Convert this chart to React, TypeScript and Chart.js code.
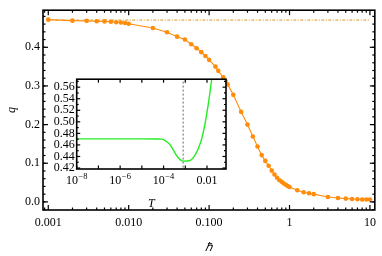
import React, { useEffect, useRef } from "react";
import { Chart, registerables } from "chart.js";
Chart.register(...registerables);

// ---- main plot data: q versus hbar ----
const hbarValues = [
  0.001, 0.002, 0.003, 0.004, 0.005, 0.006, 0.007, 0.008, 0.009, 0.01,
  0.02, 0.03, 0.04, 0.05, 0.06, 0.07, 0.08, 0.09, 0.1,
  0.12, 0.13, 0.15, 0.16, 0.17, 0.2, 0.25, 0.3, 0.35, 0.4, 0.45,
  0.5, 0.55, 0.6, 0.65, 0.7, 0.75, 0.8, 0.85, 0.9, 0.95, 1.0,
  1.25, 1.5, 1.75, 2, 3, 4, 5, 6, 7, 8, 9, 10,
];
const qValues = [
  0.4715, 0.469, 0.4685, 0.4675, 0.467, 0.466, 0.465, 0.464, 0.463, 0.461,
  0.45, 0.439, 0.4275, 0.42, 0.408, 0.3975, 0.3875, 0.3775, 0.3675,
  0.35, 0.339, 0.3225, 0.3125, 0.304, 0.277, 0.233, 0.2, 0.169, 0.1435, 0.121,
  0.106, 0.0935, 0.081, 0.071, 0.0625, 0.056, 0.052, 0.0475, 0.0443, 0.041, 0.0385,
  0.03, 0.025, 0.0225, 0.02, 0.0125, 0.01, 0.0085, 0.0075, 0.0068, 0.006, 0.006, 0.006,
];
const qClassical = 0.4705;
const xTickValues = [0.001, 0.01, 0.1, 1, 10];
const xTickLabels = ["0.001", "0.010", "0.100", "1", "10"];
const yTickValues = [0, 0.1, 0.2, 0.3, 0.4];
const yTickLabels = ["0.0", "0.1", "0.2", "0.3", "0.4"];

// ---- inset data: q versus T ----
const insetT = [
  1e-8, 1e-7, 1e-6, 1e-5, 5e-5, 8e-5, 1.13e-4, 1.93e-4, 2.75e-4, 3.9e-4,
  6.6e-4, 9.5e-4, 1.62e-3, 2.75e-3, 3.9e-3, 5.6e-3, 7.9e-3, 0.0112, 0.0162, 0.02,
];
const insetQ = [
  0.4705, 0.4705, 0.4705, 0.4705, 0.4703, 0.47, 0.468, 0.461, 0.452, 0.442,
  0.433, 0.432, 0.433, 0.442, 0.453, 0.4695, 0.4945, 0.528, 0.572, 0.6,
];
const insetMarkerT = 8e-4;
const insetXTickValues = [1e-8, 1e-6, 1e-4, 0.01];
// [base, exponent] — exponent drawn as a superscript
const insetXTickLabels: [string, string][] = [["10", "\u22128"], ["10", "\u22126"], ["10", "\u22124"], ["0.01", ""]];
const insetYTickValues = [0.42, 0.44, 0.46, 0.48, 0.5, 0.52, 0.54, 0.56];
const insetYTickLabels = ["0.42", "0.44", "0.46", "0.48", "0.50", "0.52", "0.54", "0.56"];

const ORANGE = "#ff8c0a";
const DASH_ORANGE = "#de951c";
const GREEN = "#22ee22";
const SERIF = "'Liberation Serif', 'Times New Roman', serif";

function frameTicks(
  xMajor: number[], xMinor: number[], yMajor: number[], yMinor: number[],
  majorLen: number, minorLen: number, whiteBg: boolean
) {
  return {
    id: "frameTicks",
    beforeDatasetsDraw(chart: any) {
      if (!whiteBg) return;
      const { ctx, chartArea: a } = chart;
      ctx.save();
      ctx.fillStyle = "#fff";
      ctx.fillRect(a.left, a.top, a.right - a.left, a.bottom - a.top);
      ctx.restore();
    },
    afterDatasetsDraw(chart: any) {
      const { ctx, chartArea: a, scales } = chart;
      const xs = scales.x;
      const ys = scales.y;
      ctx.save();
      ctx.strokeStyle = "#000";
      ctx.lineWidth = 1.2;
      const seg = (x1: number, y1: number, x2: number, y2: number) => {
        ctx.beginPath();
        ctx.moveTo(x1, y1);
        ctx.lineTo(x2, y2);
        ctx.stroke();
      };
      const doX = (vals: number[], len: number) => {
        vals.forEach((v) => {
          if (v < xs.min || v > xs.max) return;
          const p = xs.getPixelForValue(v);
          seg(p, a.bottom, p, a.bottom - len);
          seg(p, a.top, p, a.top + len);
        });
      };
      const doY = (vals: number[], len: number) => {
        vals.forEach((v) => {
          if (v < ys.min || v > ys.max) return;
          const p = ys.getPixelForValue(v);
          seg(a.left, p, a.left + len, p);
          seg(a.right, p, a.right - len, p);
        });
      };
      doX(xMajor, majorLen);
      doX(xMinor, minorLen);
      doY(yMajor, majorLen);
      doY(yMinor, minorLen);
      ctx.lineWidth = 1.6;
      ctx.strokeRect(a.left, a.top, a.right - a.left, a.bottom - a.top);
      ctx.restore();
    },
  };
}

const insetXLabelPlugin = {
  id: "insetXLabels",
  afterDraw(chart: any) {
    const { ctx, chartArea: a, scales } = chart;
    const xs = scales.x;
    ctx.save();
    ctx.fillStyle = "#000";
    ctx.textBaseline = "middle";
    ctx.textAlign = "left";
    insetXTickValues.forEach((v, i) => {
      const [base, exp] = insetXTickLabels[i];
      const px = xs.getPixelForValue(v);
      ctx.font = `12px ${SERIF}`;
      const wb = ctx.measureText(base).width;
      ctx.font = `8.5px ${SERIF}`;
      const we = exp ? ctx.measureText(exp).width + 0.5 : 0;
      const x0 = px - (wb + we) / 2;
      const y = a.bottom + 12;
      ctx.font = `12px ${SERIF}`;
      ctx.fillText(base, x0, y);
      if (exp) {
        ctx.font = `8.5px ${SERIF}`;
        ctx.fillText(exp, x0 + wb + 0.5, y - 4.5);
      }
    });
    ctx.restore();
  },
};

function logMinors(d0: number, d1: number) {
  const out: number[] = [];
  for (let d = d0; d <= d1; d++) for (let k = 2; k <= 9; k++) out.push(k * Math.pow(10, d));
  return out;
}
function linTicks(a: number, b: number, step: number) {
  const out: number[] = [];
  for (let v = a; v <= b + 1e-9; v += step) out.push(Math.round(v * 1000) / 1000);
  return out;
}

export default function App() {
  const mainRef = useRef<HTMLCanvasElement | null>(null);
  const insetRef = useRef<HTMLCanvasElement | null>(null);

  useEffect(() => {
    const main = new Chart(mainRef.current as HTMLCanvasElement, {
      type: "line",
      data: {
        datasets: [
          {
            data: hbarValues.map((x, i) => ({ x, y: qValues[i] })),
            borderColor: ORANGE,
            backgroundColor: ORANGE,
            pointBackgroundColor: ORANGE,
            borderWidth: 1.1,
            pointRadius: 2.3,
            pointBorderWidth: 0,
            tension: 0,
          },
          {
            data: [
              { x: hbarValues[0], y: qClassical },
              { x: hbarValues[hbarValues.length - 1], y: qClassical },
            ],
            borderColor: DASH_ORANGE,
            borderWidth: 1,
            borderDash: [3, 1.5, 1, 1.5],
            pointRadius: 0,
          },
        ],
      },
      options: {
        responsive: false,
        animation: false,
        events: [],
        layout: { padding: { left: 0, top: 3, right: 4, bottom: 0 } },
        plugins: { legend: { display: false }, tooltip: { enabled: false } },
        scales: {
          x: {
            type: "logarithmic",
            min: 0.00086,
            max: 11.5,
            grid: { display: false, drawTicks: false },
            border: { display: false },
            afterBuildTicks: (s: any) => {
              s.ticks = xTickValues.map((v) => ({ value: v }));
            },
            afterFit: (s: any) => {
              s.height = 46;
            },
            ticks: {
              autoSkip: false,
              maxRotation: 0,
              padding: 6,
              color: "#000",
              font: { family: SERIF, size: 12 },
              callback: (_v: any, i: number) => xTickLabels[i],
            },
            title: {
              display: true,
              text: "\u210F",
              color: "#000",
              padding: { top: 0, bottom: 1 },
              font: { family: SERIF, size: 12, style: "italic" },
            },
          },
          y: {
            type: "linear",
            min: -0.021,
            max: 0.496,
            grid: { display: false, drawTicks: false },
            border: { display: false },
            afterBuildTicks: (s: any) => {
              s.ticks = yTickValues.map((v) => ({ value: v }));
            },
            afterFit: (s: any) => {
              s.width = 43;
            },
            ticks: {
              autoSkip: false,
              padding: 3,
              color: "#000",
              font: { family: SERIF, size: 12 },
              callback: (_v: any, i: number) => yTickLabels[i],
            },
            title: {
              display: true,
              text: "q",
              color: "#000",
              padding: { top: 5, bottom: 0 },
              font: { family: SERIF, size: 12, style: "italic" },
            },
          },
        },
      },
      plugins: [
        frameTicks(xTickValues, logMinors(-4, 1), yTickValues, linTicks(-0.02, 0.48, 0.02), 5, 2.5, false),
      ],
    } as any);

    const inset = new Chart(insetRef.current as HTMLCanvasElement, {
      type: "line",
      data: {
        datasets: [
          {
            data: insetT.map((x, i) => ({ x, y: insetQ[i] })),
            borderColor: GREEN,
            borderWidth: 1.4,
            pointRadius: 0,
            cubicInterpolationMode: "monotone",
          },
          {
            data: [
              { x: insetMarkerT, y: 0.4 },
              { x: insetMarkerT, y: 0.6 },
            ],
            borderColor: "#8a8a8a",
            borderWidth: 1.3,
            borderDash: [2, 2],
            pointRadius: 0,
          },
        ],
      },
      options: {
        responsive: false,
        animation: false,
        events: [],
        layout: { padding: { left: 0, top: 5.7, right: 14, bottom: 0 } },
        plugins: { legend: { display: false }, tooltip: { enabled: false } },
        scales: {
          x: {
            type: "logarithmic",
            min: 1e-8,
            max: 0.075,
            grid: { display: false, drawTicks: false },
            border: { display: false },
            afterBuildTicks: (s: any) => {
              s.ticks = insetXTickValues.map((v) => ({ value: v }));
            },
            afterFit: (s: any) => {
              s.height = 46;
            },
            ticks: {
              autoSkip: false,
              maxRotation: 0,
              padding: 4,
              color: "#000",
              font: { family: SERIF, size: 12 },
              callback: () => "",
            },
            title: {
              display: true,
              text: "T",
              color: "#000",
              padding: { top: 0, bottom: 4 },
              font: { family: SERIF, size: 12, style: "italic" },
            },
          },
          y: {
            type: "linear",
            min: 0.4183,
            max: 0.5738,
            grid: { display: false, drawTicks: false },
            border: { display: false },
            afterBuildTicks: (s: any) => {
              s.ticks = insetYTickValues.map((v) => ({ value: v }));
            },
            afterFit: (s: any) => {
              s.width = 36.7;
            },
            ticks: {
              autoSkip: false,
              padding: 2,
              color: "#000",
              font: { family: SERIF, size: 12 },
              callback: (_v: any, i: number) => insetYTickLabels[i],
            },
          },
        },
      },
      plugins: [
        frameTicks(
          [1e-8, 1e-7, 1e-6, 1e-5, 1e-4, 1e-3, 1e-2],
          [],
          insetYTickValues,
          linTicks(0.43, 0.57, 0.02),
          3.5,
          2,
          true
        ),
        insetXLabelPlugin,
      ],
    } as any);

    return () => {
      main.destroy();
      inset.destroy();
    };
  }, []);

  return (
    <div style={{ position: "fixed", left: 0, top: 0, width: 382, height: 256, background: "#fff" }}>
      <canvas ref={mainRef} width={382} height={256} style={{ position: "absolute", left: 0, top: 0 }} />
      <canvas ref={insetRef} width={200} height={145} style={{ position: "absolute", left: 40, top: 70 }} />
    </div>
  );
}
